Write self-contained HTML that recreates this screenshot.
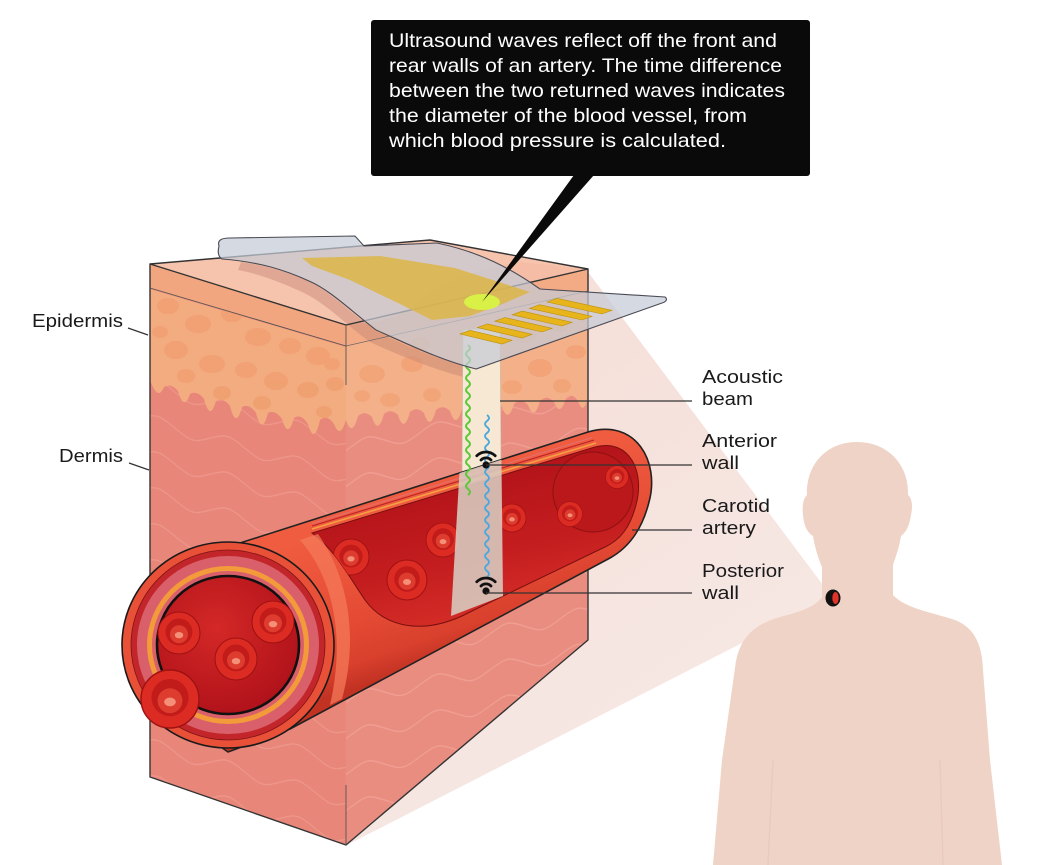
<!DOCTYPE html>
<html><head><meta charset="utf-8"><style>
html,body{margin:0;padding:0;background:#fff;}
svg{display:block;}
text{font-family:"Liberation Sans",Arial,sans-serif;}
</style></head><body>
<svg xmlns="http://www.w3.org/2000/svg" xmlns:xlink="http://www.w3.org/1999/xlink" width="1048" height="865" viewBox="0 0 1048 865">
<defs>
<pattern id="wvL" width="70" height="36" patternUnits="userSpaceOnUse" patternTransform="skewY(16)">
<path d="M0,18 C17,9 18,9 35,18 C52,27 53,27 70,18" fill="none" stroke="#f3a497" stroke-width="1.2" stroke-opacity="0.6"/>
</pattern>
<pattern id="wvR" width="70" height="36" patternUnits="userSpaceOnUse" patternTransform="skewY(-12)">
<path d="M0,18 C17,9 18,9 35,18 C52,27 53,27 70,18" fill="none" stroke="#f5ada1" stroke-width="1.2" stroke-opacity="0.6"/>
</pattern>
<clipPath id="cL"><polygon points="150,264 346,325 346,845 150,777"/></clipPath>
<clipPath id="cR"><polygon points="346,325 588,269 588,640 346,845"/></clipPath>
<clipPath id="cTube"><path d="M 240,543 L 588,432 C 636,418 660,462 649,502 C 642,530 628,548 610,558 L 290,729 L 228,752 L 130,700 L 130,560 Z"/></clipPath>
<clipPath id="cInt"><path d="M 312,533 L 595,447 C 630,438 645,472 636,505 C 630,528 620,540 605,547 L 470,612 C 425,636 385,628 365,600 C 350,578 335,550 312,533 Z"/></clipPath>
<linearGradient id="gTube" gradientUnits="userSpaceOnUse" x1="420" y1="500" x2="470" y2="650">
<stop offset="0" stop-color="#f05c40"/><stop offset="0.55" stop-color="#e64c35"/><stop offset="0.85" stop-color="#d9402d"/><stop offset="1" stop-color="#c23223"/>
</linearGradient>
<radialGradient id="gLumen" cx="0.42" cy="0.38" r="0.65"><stop offset="0" stop-color="#d42827"/><stop offset="1" stop-color="#b0121a"/></radialGradient>
<linearGradient id="gInt" gradientUnits="userSpaceOnUse" x1="450" y1="480" x2="480" y2="610"><stop offset="0" stop-color="#b3141a"/><stop offset="0.6" stop-color="#c41d1f"/><stop offset="1" stop-color="#d22b26"/></linearGradient>
<linearGradient id="gCone" gradientUnits="userSpaceOnUse" x1="600" y1="350" x2="800" y2="650"><stop offset="0" stop-color="#f6e0da"/><stop offset="1" stop-color="#f6e8e4"/></linearGradient>
<g id="rbc">
<circle r="10" fill="#dc2b22" stroke="#9e1212" stroke-width="0.5"/>
<circle cx="0" cy="-0.5" r="6.4" fill="#c11b1a"/>
<circle cx="0" cy="0.6" r="4.3" fill="#dd3c2f"/>
<ellipse cx="0" cy="1" rx="2" ry="1.5" fill="#f49078"/>
</g>
</defs>

<rect width="1048" height="865" fill="#fff"/>

<!-- cone -->
<polygon points="588,272 832,597 347,845 346,330" fill="url(#gCone)"/>

<!-- human -->
<path d="M 857,442 C 888,442 909,465 908,495 C 912,498 913,506 911,515 C 909,528 905,533 901,536 C 899,548 896,556 893,565 L 893,595 C 905,608 930,612 955,620 C 975,628 982,645 983,670 L 990,760 L 1002,865 L 713,865 L 722,760 L 735,668 C 738,640 752,625 780,617 C 800,612 815,607 822,597 L 822,567 C 818,558 815,548 813,536 C 808,533 804,527 803,515 C 802,506 803,499 807,495 C 806,465 826,442 857,442 Z" fill="#efd3c6"/>
<path d="M773,760 L768,865 M940,760 L943,865" stroke="#e9cabd" stroke-width="1.3" fill="none"/>
<ellipse cx="833" cy="598" rx="7.5" ry="8.5" fill="#111"/>
<ellipse cx="835.5" cy="598" rx="3.2" ry="6" fill="#e0342a"/>

<!-- left face -->
<polygon points="150,264 346,325 346,845 150,777" fill="#e8867a"/>
<rect x="140" y="250" width="220" height="620" fill="url(#wvL)" clip-path="url(#cL)"/>
<g clip-path="url(#cL)">
<path d="M150,289 L346,347 L346,420 Q340,440 334,424 Q327,414 320,420 Q314,446 308,424 Q301,413 294,418 Q288,440 282,419 Q275,409 268,413 Q262,436 256,413 Q249,403 242,407 Q236,430 230,406 Q223,397 216,401 Q210,422 204,399 Q197,390 190,394 Q184,412 178,391 Q171,383 164,387 Q158,402 150,380 Z" fill="#f3ab80"/>
<g fill="#ef9866" opacity="0.5">
<ellipse cx="168" cy="306" rx="11" ry="8"/><ellipse cx="198" cy="324" rx="13" ry="9"/><ellipse cx="232" cy="314" rx="11" ry="8"/>
<ellipse cx="258" cy="337" rx="13" ry="9"/><ellipse cx="290" cy="346" rx="11" ry="8"/><ellipse cx="318" cy="356" rx="12" ry="9"/>
<ellipse cx="176" cy="350" rx="12" ry="9"/><ellipse cx="212" cy="364" rx="13" ry="9"/><ellipse cx="246" cy="370" rx="11" ry="8"/>
<ellipse cx="276" cy="381" rx="12" ry="9"/><ellipse cx="308" cy="390" rx="11" ry="8"/><ellipse cx="335" cy="384" rx="9" ry="7"/>
<ellipse cx="186" cy="376" rx="9" ry="7"/><ellipse cx="222" cy="393" rx="9" ry="7"/><ellipse cx="262" cy="403" rx="9" ry="7"/>
<ellipse cx="324" cy="412" rx="8" ry="6"/><ellipse cx="160" cy="332" rx="8" ry="6"/><ellipse cx="332" cy="364" rx="8" ry="6"/>
</g>
<polygon points="150,264 346,325 346,346 150,288" fill="#f2a67f"/>
</g>

<!-- right face -->
<polygon points="346,325 588,269 588,640 346,845" fill="#ea8d81"/>
<rect x="340" y="240" width="260" height="620" fill="url(#wvR)" clip-path="url(#cR)"/>
<g clip-path="url(#cR)">
<path d="M346,346 L588,290 L588,398 Q583,416 578,401 Q572,392 566,398 Q560,418 554,402 Q547,394 540,401 Q534,422 528,405 Q521,397 514,404 Q508,424 502,407 Q495,400 488,407 Q482,426 476,409 Q469,402 462,409 Q456,430 450,411 Q443,404 436,410 Q430,432 424,413 Q417,406 410,412 Q404,434 398,415 Q391,408 384,414 Q378,436 372,417 Q365,410 358,416 Q352,438 346,420 Z" fill="#f4b088"/>
<g fill="#ef9866" opacity="0.45">
<ellipse cx="372" cy="374" rx="13" ry="9"/><ellipse cx="412" cy="364" rx="11" ry="8"/><ellipse cx="524" cy="334" rx="12" ry="9"/>
<ellipse cx="558" cy="324" rx="11" ry="8"/><ellipse cx="576" cy="352" rx="10" ry="7"/><ellipse cx="540" cy="368" rx="12" ry="9"/>
<ellipse cx="512" cy="387" rx="10" ry="7"/><ellipse cx="562" cy="386" rx="9" ry="7"/><ellipse cx="390" cy="400" rx="10" ry="7"/>
<ellipse cx="432" cy="395" rx="9" ry="7"/><ellipse cx="420" cy="344" rx="10" ry="7"/><ellipse cx="362" cy="396" rx="8" ry="6"/>
</g>
<polygon points="346,325 588,269 588,291 346,346" fill="#f3ab85"/>
</g>

<!-- top face -->
<path d="M150,264 L430,240 L588,269 L346,325 Z" fill="#f6c4ad"/>
<!-- skin bulge under patch -->
<path d="M346,325 C380,323 400,318 420,300 C440,285 470,270 520,262 L588,269 Z" fill="#f5bca2" opacity="0.8"/>
<!-- shadow under patch -->
<path d="M241,262 C270,266 295,275 309,281 C330,292 350,312 376,331 C410,348 440,360 476,369 L476,380 C440,372 405,358 370,342 C345,324 325,302 300,291 C282,283 260,274 238,270 Z" fill="#c48475" opacity="0.45"/>

<!-- block outlines -->
<g fill="none" stroke="#333" stroke-width="1.4" stroke-linejoin="round">
<polyline points="346,325 150,264 150,777 346,845 588,640 588,269 430,240 150,264"/>
<line x1="346" y1="325" x2="588" y2="269"/>
</g>
<line x1="150" y1="288" x2="346" y2="346" stroke="#555" stroke-width="0.9"/>
<line x1="346" y1="346" x2="588" y2="291" stroke="#666" stroke-width="0.7"/>
<line x1="346" y1="325" x2="346" y2="385" stroke="#555" stroke-width="0.9"/>
<line x1="346" y1="785" x2="346" y2="845" stroke="#555" stroke-width="0.9"/>

<!-- beam upper (cream) -->
<polygon points="463,330 500,327 501,470 462,480" fill="#f6e8d3" stroke="#c9bfb3" stroke-width="0.6"/>

<!-- artery tube -->
<path d="M 240,543 L 588,432 C 636,418 660,462 649,502 C 642,530 628,548 610,558 L 290,729 L 228,752 L 140,690 L 150,580 Z" fill="url(#gTube)" stroke="#222" stroke-width="1.6" stroke-linejoin="round"/>
<!-- interior -->
<path d="M 312,533 L 595,447 C 630,438 645,472 636,505 C 630,528 620,540 605,547 L 470,612 C 425,636 385,628 365,600 C 350,578 335,550 312,533 Z" fill="url(#gInt)" stroke="#7a1010" stroke-width="1"/>
<g clip-path="url(#cInt)">
<circle cx="593" cy="492" r="40" fill="#bb181c" stroke="#951212" stroke-width="1.2"/>
<use xlink:href="#rbc" transform="translate(351,557) scale(1.8)"/>
<use xlink:href="#rbc" transform="translate(407,580) scale(2)"/>
<use xlink:href="#rbc" transform="translate(443,540) scale(1.7)"/>
<use xlink:href="#rbc" transform="translate(512,518) scale(1.4)"/>
<use xlink:href="#rbc" transform="translate(570,514) scale(1.25)"/>
<use xlink:href="#rbc" transform="translate(617,477) scale(1.15)"/>
</g>
<!-- top wall layers -->
<line x1="312" y1="529" x2="596" y2="443" stroke="#f3a040" stroke-width="1.6"/>
<line x1="312" y1="526" x2="594" y2="440" stroke="#b82226" stroke-width="1.1"/>
<line x1="312" y1="523.5" x2="592" y2="437.5" stroke="#e07070" stroke-width="1"/>
<!-- front highlight -->
<path d="M 300,540 C 335,580 345,640 330,705 L 342,699 C 358,640 350,580 318,534 Z" fill="#f47a5a" opacity="0.75"/>

<!-- cross-section -->
<ellipse cx="228" cy="645" rx="106" ry="103" fill="#e85038" stroke="#1a1a1a" stroke-width="1.6"/>
<ellipse cx="228" cy="645" rx="97" ry="95" fill="#c3262a" stroke="#7e1414" stroke-width="0.8"/>
<ellipse cx="228" cy="645" rx="91" ry="89" fill="#d9606a"/>
<ellipse cx="228" cy="645" rx="81" ry="79" fill="#f39a3a"/>
<ellipse cx="228" cy="645" rx="76" ry="74" fill="#d9606a"/>
<ellipse cx="228" cy="645" rx="71" ry="69" fill="url(#gLumen)" stroke="#111" stroke-width="2.6"/>
<use xlink:href="#rbc" transform="translate(179,633) scale(2.1)"/>
<use xlink:href="#rbc" transform="translate(273,622) scale(2.1)"/>
<use xlink:href="#rbc" transform="translate(236,659) scale(2.1)"/>
<use xlink:href="#rbc" transform="translate(170,699) scale(2.9)"/>

<!-- beam over artery (grey) -->
<polygon points="462,430 501,422 503,596 451,616" fill="#d8cdc2" opacity="0.88" clip-path="url(#cTube)"/>

<!-- waves -->
<path d="M468,345 q4,3 0,6 t0,6 t0,6 t0,6 t0,6 t0,6 t0,6 t0,6 t0,6 t0,6 t0,6 t0,6 t0,6 t0,6 t0,6 t0,6 t0,6 t0,6 t0,6 t0,6 t0,6 t0,6 t0,6 t0,6 t0,6" fill="none" stroke="#5cc93a" stroke-width="2"/>
<path d="M487,415 q4,3 0,6 t0,6 t0,6 t0,6 t0,6 t0,6 t0,6 t0,6 t0,6 t0,6 t0,6 t0,6 t0,6 t0,6 t0,6 t0,6 t0,6 t0,6 t0,6 t0,6 t0,6 t0,6 t0,6 t0,6 t0,6 t0,6 t0,6" fill="none" stroke="#4aa8e0" stroke-width="1.8"/>

<!-- wifi icons -->
<g fill="none" stroke="#111" stroke-width="2.8" stroke-linecap="round">
<path d="M481,460 A7,7 0 0 1 491,460"/>
<path d="M476.8,455.8 A13,13 0 0 1 495.2,455.8"/>
<path d="M481,586 A7,7 0 0 1 491,586"/>
<path d="M476.8,581.8 A13,13 0 0 1 495.2,581.8"/>
</g>
<circle cx="486" cy="465" r="3.6" fill="#111"/>
<circle cx="486" cy="591" r="3.6" fill="#111"/>

<!-- patch -->
<path d="M219,246 C217,240 222,238 230,238 L355,236 L364,246 L437,243 C480,252 510,268 540,289 L665,297 C668,299 666,302 662,303 L476,369 C440,360 410,345 376,330 C350,310 330,290 309,281 C285,270 260,262 222,259 C217,256 218,250 219,246 Z" fill="#c5cad6" fill-opacity="0.72" stroke="#4a4a55" stroke-width="1.1"/>
<polygon points="302,258 380,256 455,268 530,292 505,303 470,316 432,320 398,303 350,280 312,266" fill="#dcb545" opacity="0.85"/>
<ellipse cx="482" cy="302" rx="18" ry="8" fill="#d9f047"/>
<g fill="#e8b41c" stroke="#b8900f" stroke-width="0.6">
<polygon points="460,334 502,344 512,340.3 470,330.3"/>
<polygon points="477.4,327.6 522,338 532,334.3 487.4,323.9"/>
<polygon points="494.8,321.2 542,332 552,328.3 504.8,317.5"/>
<polygon points="512.2,314.8 562,326 572,322.3 522.2,311.1"/>
<polygon points="529.6,308.4 582,320 592,316.3 539.6,304.7"/>
<polygon points="547,302 602,314 612,310.3 557,298.3"/>
</g>

<!-- callout -->
<polygon points="574,175 594,175 482,302" fill="#0a0a0a"/>
<rect x="371" y="20" width="439" height="156" rx="3" fill="#0a0a0a"/>
<g fill="#fff" font-size="19.5">
<text x="389" y="47" textLength="388" lengthAdjust="spacingAndGlyphs">Ultrasound waves reflect off the front and</text>
<text x="389" y="72" textLength="393" lengthAdjust="spacingAndGlyphs">rear walls of an artery. The time difference</text>
<text x="389" y="97" textLength="396" lengthAdjust="spacingAndGlyphs">between the two returned waves indicates</text>
<text x="389" y="122" textLength="358" lengthAdjust="spacingAndGlyphs">the diameter of the blood vessel, from</text>
<text x="389" y="147" textLength="337" lengthAdjust="spacingAndGlyphs">which blood pressure is calculated.</text>
</g>

<!-- leader lines -->
<g stroke="#333" stroke-width="1.2">
<line x1="500" y1="401" x2="692" y2="401"/>
<line x1="486" y1="465" x2="692" y2="465"/>
<line x1="632" y1="530" x2="692" y2="530"/>
<line x1="486" y1="593" x2="692" y2="593"/>
<line x1="128" y1="328" x2="148" y2="335"/>
<line x1="129" y1="463" x2="149" y2="470"/>
</g>

<!-- labels -->
<g fill="#1a1a1a" font-size="18">
<text x="702" y="383" textLength="81" lengthAdjust="spacingAndGlyphs">Acoustic</text>
<text x="702" y="405" textLength="51" lengthAdjust="spacingAndGlyphs">beam</text>
<text x="702" y="447" textLength="75" lengthAdjust="spacingAndGlyphs">Anterior</text>
<text x="702" y="469" textLength="37" lengthAdjust="spacingAndGlyphs">wall</text>
<text x="702" y="512" textLength="68" lengthAdjust="spacingAndGlyphs">Carotid</text>
<text x="702" y="534" textLength="54" lengthAdjust="spacingAndGlyphs">artery</text>
<text x="702" y="577" textLength="82" lengthAdjust="spacingAndGlyphs">Posterior</text>
<text x="702" y="599" textLength="37" lengthAdjust="spacingAndGlyphs">wall</text>
<text x="32" y="327" textLength="91" lengthAdjust="spacingAndGlyphs">Epidermis</text>
<text x="59" y="462" textLength="64" lengthAdjust="spacingAndGlyphs">Dermis</text>
</g>
</svg>
</body></html>
